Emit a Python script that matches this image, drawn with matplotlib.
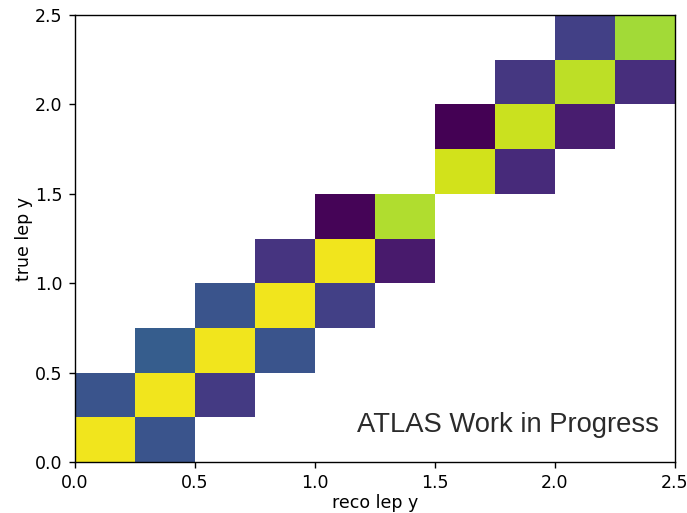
"""Migration matrix: reco vs true lepton rapidity."""

import matplotlib

matplotlib.use("Agg")
import matplotlib.pyplot as plt
import numpy as np

# bin edges shared by both axes
EDGES = [0.0, 0.25, 0.5, 0.75, 1.0, 1.25, 1.5, 1.75, 2.0, 2.25, 2.5]

# filled cells: reco bin index, true bin index, normalised content
reco_bin = [0, 1, 0, 1, 2, 1, 2, 3, 2, 3, 4, 3, 4, 5, 4, 5, 6, 7, 6, 7, 8, 7, 8, 9, 8, 9]
true_bin = [0, 0, 1, 1, 1, 2, 2, 2, 3, 3, 3, 4, 4, 4, 5, 5, 6, 6, 7, 7, 7, 8, 8, 8, 9, 9]
content = [0.98, 0.26, 0.26, 0.98, 0.17, 0.29, 0.98, 0.26, 0.26, 0.98, 0.19,
           0.15, 0.98, 0.07, 0.01, 0.88, 0.93, 0.12, 0.0, 0.92, 0.08, 0.16,
           0.90, 0.13, 0.19, 0.86]


def main() -> None:
    n = len(EDGES) - 1
    grid = np.full((n, n), np.nan)
    for i, j, v in zip(reco_bin, true_bin, content):
        grid[j, i] = v

    fig, ax = plt.subplots(figsize=(5.496, 4.104), dpi=125)
    fig.subplots_adjust(left=0.109, right=0.982, bottom=0.099, top=0.971)
    ax.pcolormesh(EDGES, EDGES, np.ma.masked_invalid(grid), cmap="viridis", vmin=0, vmax=1)
    ax.set_xlim(0, 2.5)
    ax.set_ylim(0, 2.5)
    ax.set_xlabel("reco lep y", labelpad=0.8)
    ax.set_ylabel("true lep y", labelpad=1.5)
    ax.text(0.47, 0.083, "ATLAS Work in Progress", transform=ax.transAxes,
            fontsize=15.8, color="#2b2b2b", va="center", ha="left",
            family=["Liberation Sans", "DejaVu Sans"])

    fig.savefig("out.png", dpi=125, facecolor="white")


if __name__ == "__main__":
    main()
